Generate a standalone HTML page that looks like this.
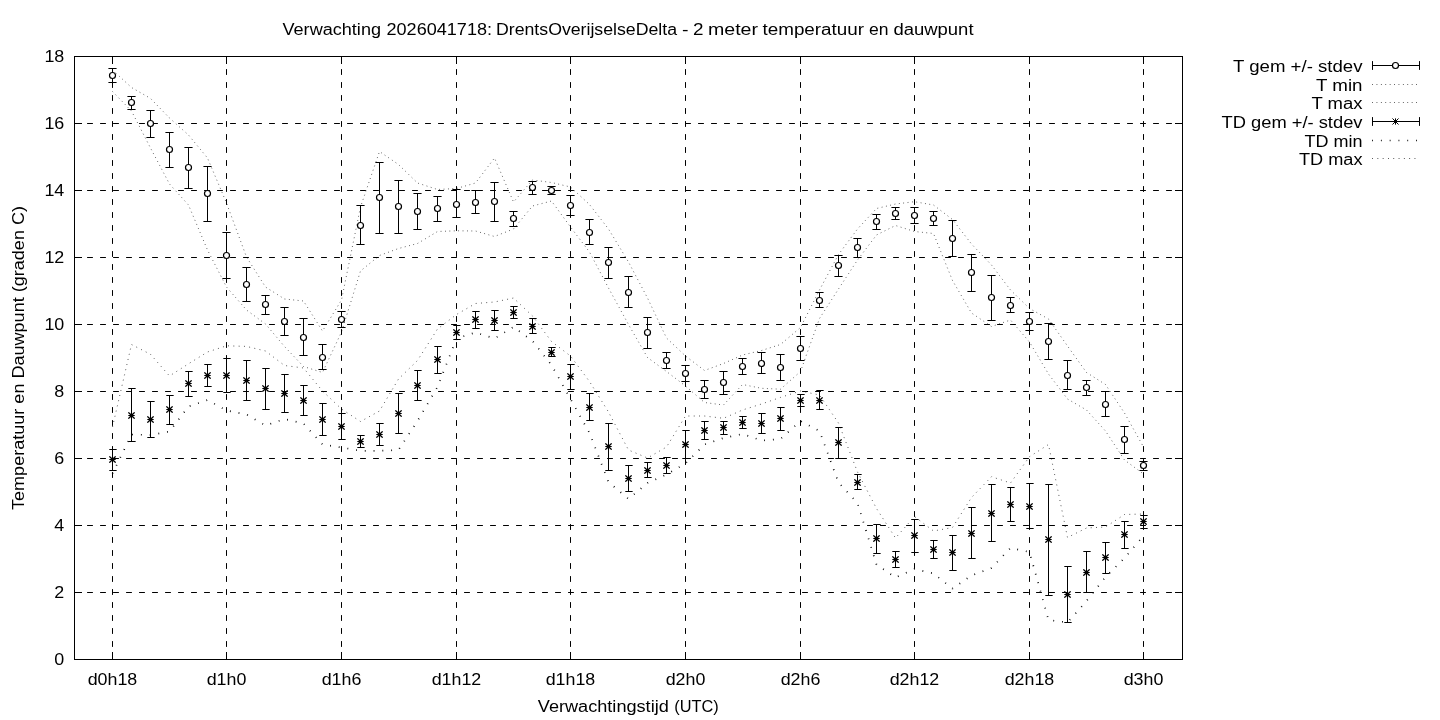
<!DOCTYPE html>
<html><head><meta charset="utf-8"><title>Verwachting</title>
<style>html,body{margin:0;padding:0;background:#fff}svg{display:block;will-change:transform}text{font-family:"Liberation Sans",sans-serif;font-size:16px;fill:#000}</style></head><body>
<svg width="1440" height="720" viewBox="0 0 1440 720">
<rect width="1440" height="720" fill="#fff"/>
<g stroke="#000" stroke-width="1" fill="none" stroke-linecap="round" stroke-dasharray="5 8">
<path d="M74.5 592.5H1182.5"/>
<path d="M74.5 525.5H1182.5"/>
<path d="M74.5 458.5H1182.5"/>
<path d="M74.5 391.5H1182.5"/>
<path d="M74.5 324.5H1182.5"/>
<path d="M74.5 257.5H1182.5"/>
<path d="M74.5 190.5H1182.5"/>
<path d="M74.5 123.5H1182.5"/>
<path d="M112.5 659.5V56.5"/>
<path d="M226.5 659.5V56.5"/>
<path d="M341.5 659.5V56.5"/>
<path d="M456.5 659.5V56.5"/>
<path d="M570.5 659.5V56.5"/>
<path d="M685.5 659.5V56.5"/>
<path d="M800.5 659.5V56.5"/>
<path d="M914.5 659.5V56.5"/>
<path d="M1029.5 659.5V56.5"/>
<path d="M1143.5 659.5V56.5"/>
</g>
<g stroke="#000" stroke-width="1" fill="none">
<path d="M74.5 659.5h7.5M1182.5 659.5h-7.5M74.5 592.5h7.5M1182.5 592.5h-7.5M74.5 525.5h7.5M1182.5 525.5h-7.5M74.5 458.5h7.5M1182.5 458.5h-7.5M74.5 391.5h7.5M1182.5 391.5h-7.5M74.5 324.5h7.5M1182.5 324.5h-7.5M74.5 257.5h7.5M1182.5 257.5h-7.5M74.5 190.5h7.5M1182.5 190.5h-7.5M74.5 123.5h7.5M1182.5 123.5h-7.5M74.5 56.5h7.5M1182.5 56.5h-7.5M112.5 659.5v-7.5M112.5 56.5v7.5M226.5 659.5v-7.5M226.5 56.5v7.5M341.5 659.5v-7.5M341.5 56.5v7.5M456.5 659.5v-7.5M456.5 56.5v7.5M570.5 659.5v-7.5M570.5 56.5v7.5M685.5 659.5v-7.5M685.5 56.5v7.5M800.5 659.5v-7.5M800.5 56.5v7.5M914.5 659.5v-7.5M914.5 56.5v7.5M1029.5 659.5v-7.5M1029.5 56.5v7.5M1143.5 659.5v-7.5M1143.5 56.5v7.5"/>
</g>
<g fill="none" stroke="#000" stroke-linejoin="round">
<path d="M112.5 91.5 L131.5 111 L150.5 148 L169.5 184 L188.5 205 L207.5 250 L226.5 287 L246.5 310 L265.5 324 L284.5 346.5 L303.5 366.5 L322.5 372.5 L341.5 332 L360.5 271 L379.5 255.5 L398.5 248.5 L417.5 243.5 L437.5 231.5 L456.5 230.8 L475.5 231 L494.5 236.5 L513.5 229 L532.5 206 L551.5 201 L570.5 227 L589.5 252 L608.5 288 L628.5 324.5 L647.5 357.5 L666.5 371.5 L685.5 386 L704.5 402.5 L723.5 405 L742.5 384.5 L761.5 388.3 L780.5 389.2 L800.5 371.5 L819.5 318.5 L838.5 289 L857.5 260 L876.5 235 L895.5 225.5 L914.5 231.5 L933.5 233.5 L952.5 280.5 L971.5 313 L991.5 326.5 L1010.5 320 L1029.5 342 L1048.5 374 L1067.5 399 L1086.5 410 L1105.5 431 L1124.5 460 L1143.5 474" stroke-width="0.7" stroke-dasharray="0.85 3.55" stroke-linecap="butt"/>
<path d="M112.5 70 L131.5 87.5 L150.5 98.4 L169.5 118 L188.5 135 L207.5 158 L226.5 203 L246.5 257 L265.5 287 L284.5 299 L303.5 301 L322.5 331 L341.5 300 L360.5 207 L379.5 151.5 L398.5 164.5 L417.5 183 L437.5 189.5 L456.5 188.5 L475.5 183 L494.5 158 L513.5 202 L532.5 180 L551.5 182.5 L570.5 187 L589.5 204.5 L608.5 229 L628.5 262 L647.5 298 L666.5 338 L685.5 356 L704.5 370.5 L723.5 363.5 L742.5 355 L761.5 350.5 L780.5 344.5 L800.5 327.5 L819.5 290 L838.5 254.5 L857.5 229 L876.5 208.5 L895.5 204 L914.5 201.7 L933.5 205 L952.5 219.5 L971.5 244 L991.5 265 L1010.5 290 L1029.5 308.5 L1048.5 319 L1067.5 346 L1086.5 372.5 L1105.5 384.5 L1124.5 413 L1143.5 447" stroke-width="0.7" stroke-dasharray="0.85 3.55" stroke-linecap="butt"/>
<path d="M112.5 473.5 L131.5 434.5 L150.5 435 L169.5 431.5 L188.5 406.5 L207.5 400 L226.5 410.5 L246.5 414.5 L265.5 425.5 L284.5 419 L303.5 423.5 L322.5 444.5 L341.5 447.5 L360.5 450.8 L379.5 450.8 L398.5 450 L417.5 421 L437.5 387 L456.5 338.5 L475.5 332.5 L494.5 338.5 L513.5 327 L532.5 341 L551.5 365 L570.5 399 L589.5 433 L608.5 482 L628.5 499 L647.5 483 L666.5 474.5 L685.5 463.5 L704.5 444.5 L723.5 438 L742.5 434 L761.5 440.5 L780.5 439 L800.5 421 L819.5 431 L838.5 482.5 L857.5 503 L876.5 564.5 L895.5 577.5 L914.5 569 L933.5 573.5 L952.5 588.5 L971.5 575.5 L991.5 568 L1010.5 548 L1029.5 552 L1048.5 620 L1067.5 622.5 L1086.5 601 L1105.5 577 L1124.5 558 L1143.5 536" stroke-width="1.7" stroke-dasharray="0.85 7.95" stroke-linecap="butt"/>
<path d="M112.5 427 L131.5 344.5 L150.5 354.3 L169.5 376 L188.5 363.8 L207.5 352 L226.5 345.8 L246.5 346.4 L265.5 351 L284.5 365.5 L303.5 368 L322.5 391 L341.5 409 L360.5 421.5 L379.5 411 L398.5 379 L417.5 360.5 L437.5 329 L456.5 314.5 L475.5 303.5 L494.5 302 L513.5 298 L532.5 316 L551.5 341.5 L570.5 356 L589.5 381.5 L608.5 412 L628.5 450 L647.5 458 L666.5 447 L685.5 416 L704.5 416 L723.5 418.3 L742.5 410 L761.5 404 L780.5 397.4 L800.5 391 L819.5 395 L838.5 423 L857.5 472 L876.5 508.5 L895.5 538 L914.5 516.5 L933.5 531 L952.5 527.5 L971.5 497.5 L991.5 476.7 L1010.5 483 L1029.5 456.7 L1048.5 444.5 L1067.5 537.5 L1086.5 528 L1105.5 527 L1124.5 514.5 L1143.5 514" stroke-width="0.72" stroke-dasharray="0.9 4.4" stroke-linecap="butt"/>
</g>
<g stroke="#000" stroke-width="1" fill="none" stroke-linecap="round">
<path d="M112.5 68.5V82.5M108.8 68.5h7.4M108.8 82.5h7.4M131.5 96.5V109.5M127.8 96.5h7.4M127.8 109.5h7.4M150.5 110.5V137.5M146.8 110.5h7.4M146.8 137.5h7.4M169.5 132.5V167.5M165.8 132.5h7.4M165.8 167.5h7.4M188.5 147.5V188.5M184.8 147.5h7.4M184.8 188.5h7.4M207.5 166.5V221.5M203.8 166.5h7.4M203.8 221.5h7.4M226.5 232.5V278.5M222.8 232.5h7.4M222.8 278.5h7.4M246.5 267.5V301.5M242.8 267.5h7.4M242.8 301.5h7.4M265.5 295.5V314.5M261.8 295.5h7.4M261.8 314.5h7.4M284.5 307.5V335.5M280.8 307.5h7.4M280.8 335.5h7.4M303.5 318.5V355.5M299.8 318.5h7.4M299.8 355.5h7.4M322.5 344.5V369.5M318.8 344.5h7.4M318.8 369.5h7.4M341.5 311.5V327.5M337.8 311.5h7.4M337.8 327.5h7.4M360.5 205.5V244.5M356.8 205.5h7.4M356.8 244.5h7.4M379.5 162.5V233.5M375.8 162.5h7.4M375.8 233.5h7.4M398.5 180.5V233.5M394.8 180.5h7.4M394.8 233.5h7.4M417.5 193.5V229.5M413.8 193.5h7.4M413.8 229.5h7.4M437.5 196.5V221.5M433.8 196.5h7.4M433.8 221.5h7.4M456.5 189.5V217.5M452.8 189.5h7.4M452.8 217.5h7.4M475.5 190.5V213.5M471.8 190.5h7.4M471.8 213.5h7.4M494.5 182.5V221.5M490.8 182.5h7.4M490.8 221.5h7.4M513.5 211.5V226.5M509.8 211.5h7.4M509.8 226.5h7.4M532.5 181.5V194.5M528.8 181.5h7.4M528.8 194.5h7.4M551.5 186.5V194.5M547.8 186.5h7.4M547.8 194.5h7.4M570.5 195.5V215.5M566.8 195.5h7.4M566.8 215.5h7.4M589.5 219.5V244.5M585.8 219.5h7.4M585.8 244.5h7.4M608.5 247.5V278.5M604.8 247.5h7.4M604.8 278.5h7.4M628.5 276.5V307.5M624.8 276.5h7.4M624.8 307.5h7.4M647.5 317.5V348.5M643.8 317.5h7.4M643.8 348.5h7.4M666.5 352.5V368.5M662.8 352.5h7.4M662.8 368.5h7.4M685.5 365.5V381.5M681.8 365.5h7.4M681.8 381.5h7.4M704.5 380.5V398.5M700.8 380.5h7.4M700.8 398.5h7.4M723.5 371.5V394.5M719.8 371.5h7.4M719.8 394.5h7.4M742.5 358.5V374.5M738.8 358.5h7.4M738.8 374.5h7.4M761.5 352.5V373.5M757.8 352.5h7.4M757.8 373.5h7.4M780.5 354.5V380.5M776.8 354.5h7.4M776.8 380.5h7.4M800.5 336.5V360.5M796.8 336.5h7.4M796.8 360.5h7.4M819.5 292.5V307.5M815.8 292.5h7.4M815.8 307.5h7.4M838.5 255.5V276.5M834.8 255.5h7.4M834.8 276.5h7.4M857.5 238.5V257.5M853.8 238.5h7.4M853.8 257.5h7.4M876.5 214.5V229.5M872.8 214.5h7.4M872.8 229.5h7.4M895.5 207.5V219.5M891.8 207.5h7.4M891.8 219.5h7.4M914.5 207.5V223.5M910.8 207.5h7.4M910.8 223.5h7.4M933.5 211.5V225.5M929.8 211.5h7.4M929.8 225.5h7.4M952.5 220.5V256.5M948.8 220.5h7.4M948.8 256.5h7.4M971.5 254.5V291.5M967.8 254.5h7.4M967.8 291.5h7.4M991.5 275.5V320.5M987.8 275.5h7.4M987.8 320.5h7.4M1010.5 297.5V312.5M1006.8 297.5h7.4M1006.8 312.5h7.4M1029.5 312.5V330.5M1025.8 312.5h7.4M1025.8 330.5h7.4M1048.5 323.5V359.5M1044.8 323.5h7.4M1044.8 359.5h7.4M1067.5 360.5V389.5M1063.8 360.5h7.4M1063.8 389.5h7.4M1086.5 380.5V395.5M1082.8 380.5h7.4M1082.8 395.5h7.4M1105.5 391.5V416.5M1101.8 391.5h7.4M1101.8 416.5h7.4M1124.5 426.5V453.5M1120.8 426.5h7.4M1120.8 453.5h7.4M1143.5 461.5V470.5M1139.8 461.5h7.4M1139.8 470.5h7.4"/>
<path d="M112.5 449.5V470.5M109.7 449.5h6.55M109.7 470.5h6.55M131.5 388.5V441.5M128.7 388.5h6.55M128.7 441.5h6.55M150.5 401.5V437.5M147.7 401.5h6.55M147.7 437.5h6.55M169.5 395.5V424.5M166.7 395.5h6.55M166.7 424.5h6.55M188.5 371.5V396.5M185.7 371.5h6.55M185.7 396.5h6.55M207.5 364.5V386.5M204.7 364.5h6.55M204.7 386.5h6.55M226.5 358.5V392.5M223.7 358.5h6.55M223.7 392.5h6.55M246.5 360.5V400.5M243.7 360.5h6.55M243.7 400.5h6.55M265.5 368.5V409.5M262.7 368.5h6.55M262.7 409.5h6.55M284.5 374.5V412.5M281.7 374.5h6.55M281.7 412.5h6.55M303.5 385.5V415.5M300.7 385.5h6.55M300.7 415.5h6.55M322.5 403.5V435.5M319.7 403.5h6.55M319.7 435.5h6.55M341.5 413.5V439.5M338.7 413.5h6.55M338.7 439.5h6.55M360.5 435.5V447.5M357.7 435.5h6.55M357.7 447.5h6.55M379.5 423.5V445.5M376.7 423.5h6.55M376.7 445.5h6.55M398.5 393.5V433.5M395.7 393.5h6.55M395.7 433.5h6.55M417.5 370.5V400.5M414.7 370.5h6.55M414.7 400.5h6.55M437.5 346.5V373.5M434.7 346.5h6.55M434.7 373.5h6.55M456.5 325.5V339.5M453.7 325.5h6.55M453.7 339.5h6.55M475.5 311.5V328.5M472.7 311.5h6.55M472.7 328.5h6.55M494.5 310.5V330.5M491.7 310.5h6.55M491.7 330.5h6.55M513.5 306.5V318.5M510.7 306.5h6.55M510.7 318.5h6.55M532.5 318.5V333.5M529.7 318.5h6.55M529.7 333.5h6.55M551.5 347.5V356.5M548.7 347.5h6.55M548.7 356.5h6.55M570.5 364.5V389.5M567.7 364.5h6.55M567.7 389.5h6.55M589.5 393.5V420.5M586.7 393.5h6.55M586.7 420.5h6.55M608.5 423.5V470.5M605.7 423.5h6.55M605.7 470.5h6.55M628.5 465.5V491.5M625.7 465.5h6.55M625.7 491.5h6.55M647.5 462.5V477.5M644.7 462.5h6.55M644.7 477.5h6.55M666.5 457.5V473.5M663.7 457.5h6.55M663.7 473.5h6.55M685.5 430.5V458.5M682.7 430.5h6.55M682.7 458.5h6.55M704.5 421.5V439.5M701.7 421.5h6.55M701.7 439.5h6.55M723.5 421.5V434.5M720.7 421.5h6.55M720.7 434.5h6.55M742.5 416.5V428.5M739.7 416.5h6.55M739.7 428.5h6.55M761.5 413.5V433.5M758.7 413.5h6.55M758.7 433.5h6.55M780.5 407.5V430.5M777.7 407.5h6.55M777.7 430.5h6.55M800.5 394.5V406.5M797.7 394.5h6.55M797.7 406.5h6.55M819.5 390.5V409.5M816.7 390.5h6.55M816.7 409.5h6.55M838.5 427.5V458.5M835.7 427.5h6.55M835.7 458.5h6.55M857.5 474.5V489.5M854.7 474.5h6.55M854.7 489.5h6.55M876.5 524.5V553.5M873.7 524.5h6.55M873.7 553.5h6.55M895.5 551.5V567.5M892.7 551.5h6.55M892.7 567.5h6.55M914.5 519.5V552.5M911.7 519.5h6.55M911.7 552.5h6.55M933.5 540.5V558.5M930.7 540.5h6.55M930.7 558.5h6.55M952.5 535.5V570.5M949.7 535.5h6.55M949.7 570.5h6.55M971.5 507.5V558.5M968.7 507.5h6.55M968.7 558.5h6.55M991.5 484.5V541.5M988.7 484.5h6.55M988.7 541.5h6.55M1010.5 487.5V521.5M1007.7 487.5h6.55M1007.7 521.5h6.55M1029.5 483.5V528.5M1026.7 483.5h6.55M1026.7 528.5h6.55M1048.5 484.5V595.5M1045.7 484.5h6.55M1045.7 595.5h6.55M1067.5 566.5V622.5M1064.7 566.5h6.55M1064.7 622.5h6.55M1086.5 551.5V592.5M1083.7 551.5h6.55M1083.7 592.5h6.55M1105.5 542.5V573.5M1102.7 542.5h6.55M1102.7 573.5h6.55M1124.5 521.5V548.5M1121.7 521.5h6.55M1121.7 548.5h6.55M1143.5 515.5V528.5M1140.7 515.5h6.55M1140.7 528.5h6.55"/>
<path d="M109.75 459.5h5.5M112.5 456.75v5.5M109.75 456.75l5.5 5.5M109.75 462.25l5.5 -5.5M128.75 415.5h5.5M131.5 412.75v5.5M128.75 412.75l5.5 5.5M128.75 418.25l5.5 -5.5M147.75 419.5h5.5M150.5 416.75v5.5M147.75 416.75l5.5 5.5M147.75 422.25l5.5 -5.5M166.75 409.5h5.5M169.5 406.75v5.5M166.75 406.75l5.5 5.5M166.75 412.25l5.5 -5.5M185.75 383.5h5.5M188.5 380.75v5.5M185.75 380.75l5.5 5.5M185.75 386.25l5.5 -5.5M204.75 375.5h5.5M207.5 372.75v5.5M204.75 372.75l5.5 5.5M204.75 378.25l5.5 -5.5M223.75 375.5h5.5M226.5 372.75v5.5M223.75 372.75l5.5 5.5M223.75 378.25l5.5 -5.5M243.75 380.5h5.5M246.5 377.75v5.5M243.75 377.75l5.5 5.5M243.75 383.25l5.5 -5.5M262.75 388.5h5.5M265.5 385.75v5.5M262.75 385.75l5.5 5.5M262.75 391.25l5.5 -5.5M281.75 393.5h5.5M284.5 390.75v5.5M281.75 390.75l5.5 5.5M281.75 396.25l5.5 -5.5M300.75 400.5h5.5M303.5 397.75v5.5M300.75 397.75l5.5 5.5M300.75 403.25l5.5 -5.5M319.75 419.5h5.5M322.5 416.75v5.5M319.75 416.75l5.5 5.5M319.75 422.25l5.5 -5.5M338.75 426.5h5.5M341.5 423.75v5.5M338.75 423.75l5.5 5.5M338.75 429.25l5.5 -5.5M357.75 441.5h5.5M360.5 438.75v5.5M357.75 438.75l5.5 5.5M357.75 444.25l5.5 -5.5M376.75 434.5h5.5M379.5 431.75v5.5M376.75 431.75l5.5 5.5M376.75 437.25l5.5 -5.5M395.75 413.5h5.5M398.5 410.75v5.5M395.75 410.75l5.5 5.5M395.75 416.25l5.5 -5.5M414.75 385.5h5.5M417.5 382.75v5.5M414.75 382.75l5.5 5.5M414.75 388.25l5.5 -5.5M434.75 359.5h5.5M437.5 356.75v5.5M434.75 356.75l5.5 5.5M434.75 362.25l5.5 -5.5M453.75 332.5h5.5M456.5 329.75v5.5M453.75 329.75l5.5 5.5M453.75 335.25l5.5 -5.5M472.75 319.5h5.5M475.5 316.75v5.5M472.75 316.75l5.5 5.5M472.75 322.25l5.5 -5.5M491.75 320.5h5.5M494.5 317.75v5.5M491.75 317.75l5.5 5.5M491.75 323.25l5.5 -5.5M510.75 312.5h5.5M513.5 309.75v5.5M510.75 309.75l5.5 5.5M510.75 315.25l5.5 -5.5M529.75 326.5h5.5M532.5 323.75v5.5M529.75 323.75l5.5 5.5M529.75 329.25l5.5 -5.5M548.75 352.5h5.5M551.5 349.75v5.5M548.75 349.75l5.5 5.5M548.75 355.25l5.5 -5.5M567.75 376.5h5.5M570.5 373.75v5.5M567.75 373.75l5.5 5.5M567.75 379.25l5.5 -5.5M586.75 407.5h5.5M589.5 404.75v5.5M586.75 404.75l5.5 5.5M586.75 410.25l5.5 -5.5M605.75 446.5h5.5M608.5 443.75v5.5M605.75 443.75l5.5 5.5M605.75 449.25l5.5 -5.5M625.75 478.5h5.5M628.5 475.75v5.5M625.75 475.75l5.5 5.5M625.75 481.25l5.5 -5.5M644.75 470.5h5.5M647.5 467.75v5.5M644.75 467.75l5.5 5.5M644.75 473.25l5.5 -5.5M663.75 465.5h5.5M666.5 462.75v5.5M663.75 462.75l5.5 5.5M663.75 468.25l5.5 -5.5M682.75 444.5h5.5M685.5 441.75v5.5M682.75 441.75l5.5 5.5M682.75 447.25l5.5 -5.5M701.75 430.5h5.5M704.5 427.75v5.5M701.75 427.75l5.5 5.5M701.75 433.25l5.5 -5.5M720.75 427.5h5.5M723.5 424.75v5.5M720.75 424.75l5.5 5.5M720.75 430.25l5.5 -5.5M739.75 422.5h5.5M742.5 419.75v5.5M739.75 419.75l5.5 5.5M739.75 425.25l5.5 -5.5M758.75 423.5h5.5M761.5 420.75v5.5M758.75 420.75l5.5 5.5M758.75 426.25l5.5 -5.5M777.75 418.5h5.5M780.5 415.75v5.5M777.75 415.75l5.5 5.5M777.75 421.25l5.5 -5.5M797.75 400.5h5.5M800.5 397.75v5.5M797.75 397.75l5.5 5.5M797.75 403.25l5.5 -5.5M816.75 400.5h5.5M819.5 397.75v5.5M816.75 397.75l5.5 5.5M816.75 403.25l5.5 -5.5M835.75 442.5h5.5M838.5 439.75v5.5M835.75 439.75l5.5 5.5M835.75 445.25l5.5 -5.5M854.75 482.5h5.5M857.5 479.75v5.5M854.75 479.75l5.5 5.5M854.75 485.25l5.5 -5.5M873.75 538.5h5.5M876.5 535.75v5.5M873.75 535.75l5.5 5.5M873.75 541.25l5.5 -5.5M892.75 559.5h5.5M895.5 556.75v5.5M892.75 556.75l5.5 5.5M892.75 562.25l5.5 -5.5M911.75 535.5h5.5M914.5 532.75v5.5M911.75 532.75l5.5 5.5M911.75 538.25l5.5 -5.5M930.75 549.5h5.5M933.5 546.75v5.5M930.75 546.75l5.5 5.5M930.75 552.25l5.5 -5.5M949.75 552.5h5.5M952.5 549.75v5.5M949.75 549.75l5.5 5.5M949.75 555.25l5.5 -5.5M968.75 533.5h5.5M971.5 530.75v5.5M968.75 530.75l5.5 5.5M968.75 536.25l5.5 -5.5M988.75 513.5h5.5M991.5 510.75v5.5M988.75 510.75l5.5 5.5M988.75 516.25l5.5 -5.5M1007.75 504.5h5.5M1010.5 501.75v5.5M1007.75 501.75l5.5 5.5M1007.75 507.25l5.5 -5.5M1026.75 506.5h5.5M1029.5 503.75v5.5M1026.75 503.75l5.5 5.5M1026.75 509.25l5.5 -5.5M1045.75 539.5h5.5M1048.5 536.75v5.5M1045.75 536.75l5.5 5.5M1045.75 542.25l5.5 -5.5M1064.75 594.5h5.5M1067.5 591.75v5.5M1064.75 591.75l5.5 5.5M1064.75 597.25l5.5 -5.5M1083.75 572.5h5.5M1086.5 569.75v5.5M1083.75 569.75l5.5 5.5M1083.75 575.25l5.5 -5.5M1102.75 557.5h5.5M1105.5 554.75v5.5M1102.75 554.75l5.5 5.5M1102.75 560.25l5.5 -5.5M1121.75 534.5h5.5M1124.5 531.75v5.5M1121.75 531.75l5.5 5.5M1121.75 537.25l5.5 -5.5M1140.75 521.5h5.5M1143.5 518.75v5.5M1140.75 518.75l5.5 5.5M1140.75 524.25l5.5 -5.5" stroke-width="1.2"/>
</g>
<g stroke="#000" stroke-width="1.2" fill="#fff">
<circle cx="112.5" cy="75.5" r="3"/>
<circle cx="131.5" cy="102.5" r="3"/>
<circle cx="150.5" cy="123.5" r="3"/>
<circle cx="169.5" cy="149.5" r="3"/>
<circle cx="188.5" cy="167.5" r="3"/>
<circle cx="207.5" cy="193.5" r="3"/>
<circle cx="226.5" cy="255.5" r="3"/>
<circle cx="246.5" cy="284.5" r="3"/>
<circle cx="265.5" cy="304.5" r="3"/>
<circle cx="284.5" cy="321.5" r="3"/>
<circle cx="303.5" cy="337.5" r="3"/>
<circle cx="322.5" cy="357.5" r="3"/>
<circle cx="341.5" cy="319.5" r="3"/>
<circle cx="360.5" cy="225.5" r="3"/>
<circle cx="379.5" cy="197.5" r="3"/>
<circle cx="398.5" cy="206.5" r="3"/>
<circle cx="417.5" cy="211.5" r="3"/>
<circle cx="437.5" cy="208.5" r="3"/>
<circle cx="456.5" cy="204.5" r="3"/>
<circle cx="475.5" cy="202.5" r="3"/>
<circle cx="494.5" cy="201.5" r="3"/>
<circle cx="513.5" cy="218.5" r="3"/>
<circle cx="532.5" cy="187.5" r="3"/>
<circle cx="551.5" cy="190.5" r="3"/>
<circle cx="570.5" cy="205.5" r="3"/>
<circle cx="589.5" cy="232.5" r="3"/>
<circle cx="608.5" cy="262.5" r="3"/>
<circle cx="628.5" cy="292.5" r="3"/>
<circle cx="647.5" cy="332.5" r="3"/>
<circle cx="666.5" cy="360.5" r="3"/>
<circle cx="685.5" cy="373.5" r="3"/>
<circle cx="704.5" cy="389.5" r="3"/>
<circle cx="723.5" cy="382.5" r="3"/>
<circle cx="742.5" cy="366.5" r="3"/>
<circle cx="761.5" cy="363.5" r="3"/>
<circle cx="780.5" cy="367.5" r="3"/>
<circle cx="800.5" cy="348.5" r="3"/>
<circle cx="819.5" cy="300.5" r="3"/>
<circle cx="838.5" cy="265.5" r="3"/>
<circle cx="857.5" cy="247.5" r="3"/>
<circle cx="876.5" cy="221.5" r="3"/>
<circle cx="895.5" cy="213.5" r="3"/>
<circle cx="914.5" cy="215.5" r="3"/>
<circle cx="933.5" cy="218.5" r="3"/>
<circle cx="952.5" cy="238.5" r="3"/>
<circle cx="971.5" cy="272.5" r="3"/>
<circle cx="991.5" cy="297.5" r="3"/>
<circle cx="1010.5" cy="305.5" r="3"/>
<circle cx="1029.5" cy="321.5" r="3"/>
<circle cx="1048.5" cy="341.5" r="3"/>
<circle cx="1067.5" cy="375.5" r="3"/>
<circle cx="1086.5" cy="387.5" r="3"/>
<circle cx="1105.5" cy="404.5" r="3"/>
<circle cx="1124.5" cy="439.5" r="3"/>
<circle cx="1143.5" cy="465.5" r="3"/>
</g>
<rect x="74.5" y="56.5" width="1108.0" height="603.0" fill="none" stroke="#000" stroke-width="1"/>
<text x="1362.5" y="71.5" text-anchor="end" textLength="129.5" lengthAdjust="spacingAndGlyphs">T gem +/- stdev</text>
<text x="1362.5" y="90.5" text-anchor="end" textLength="46.5" lengthAdjust="spacingAndGlyphs">T min</text>
<text x="1362.5" y="108.5" text-anchor="end" textLength="51" lengthAdjust="spacingAndGlyphs">T max</text>
<text x="1362.5" y="127.5" text-anchor="end" textLength="141" lengthAdjust="spacingAndGlyphs">TD gem +/- stdev</text>
<text x="1362.5" y="146.5" text-anchor="end" textLength="58" lengthAdjust="spacingAndGlyphs">TD min</text>
<text x="1362.5" y="164.5" text-anchor="end" textLength="63.5" lengthAdjust="spacingAndGlyphs">TD max</text>
<g stroke="#000" fill="none" stroke-linecap="round">
<path stroke-width="1" d="M1372.5 65.5H1419.5M1372.5 61.5v8M1419.5 61.5v8"/>
<path stroke-width="1" d="M1372.5 121.5H1419.5M1372.5 117.5v8M1419.5 117.5v8"/>
<path stroke-width="0.7" stroke-dasharray="0.85 3.55" stroke-linecap="butt" d="M1372.12 84.5H1419.5"/>
<path stroke-width="0.7" stroke-dasharray="0.85 3.55" stroke-linecap="butt" d="M1372.12 102.5H1419.5"/>
<path stroke-width="1.7" stroke-dasharray="0.85 7.95" stroke-linecap="butt" d="M1372.1 140.5H1419.5"/>
<path stroke-width="0.72" stroke-dasharray="0.9 4.4" stroke-linecap="butt" d="M1372.1 158.5H1419.5"/>
<path stroke-width="1" d="M1392.75 121.5h5.5M1395.5 118.75v5.5M1392.75 118.75l5.5 5.5M1392.75 124.25l5.5 -5.5"/>
</g>
<circle cx="1395.5" cy="65.5" r="3" stroke="#000" stroke-width="1.2" fill="#fff"/>
<text x="282.5" y="35" textLength="98.5" lengthAdjust="spacingAndGlyphs">Verwachting</text>
<text x="386.5" y="35" textLength="105.5" lengthAdjust="spacingAndGlyphs">2026041718:</text>
<text x="496" y="35" textLength="181" lengthAdjust="spacingAndGlyphs">DrentsOverijselseDelta</text>
<text x="682" y="35" textLength="6.5" lengthAdjust="spacingAndGlyphs">-</text>
<text x="693" y="35" textLength="10.5" lengthAdjust="spacingAndGlyphs">2</text>
<text x="708" y="35" textLength="50" lengthAdjust="spacingAndGlyphs">meter</text>
<text x="762.5" y="35" textLength="101.5" lengthAdjust="spacingAndGlyphs">temperatuur</text>
<text x="869" y="35" textLength="19.5" lengthAdjust="spacingAndGlyphs">en</text>
<text x="893.5" y="35" textLength="80.0" lengthAdjust="spacingAndGlyphs">dauwpunt</text>
<text x="64.3" y="665.3" text-anchor="end" textLength="9.95" lengthAdjust="spacingAndGlyphs">0</text>
<text x="64.3" y="598.3" text-anchor="end" textLength="9.95" lengthAdjust="spacingAndGlyphs">2</text>
<text x="64.3" y="531.3" text-anchor="end" textLength="9.95" lengthAdjust="spacingAndGlyphs">4</text>
<text x="64.3" y="464.3" text-anchor="end" textLength="9.95" lengthAdjust="spacingAndGlyphs">6</text>
<text x="64.3" y="397.3" text-anchor="end" textLength="9.95" lengthAdjust="spacingAndGlyphs">8</text>
<text x="64.3" y="330.3" text-anchor="end" textLength="19.9" lengthAdjust="spacingAndGlyphs">10</text>
<text x="64.3" y="263.3" text-anchor="end" textLength="19.9" lengthAdjust="spacingAndGlyphs">12</text>
<text x="64.3" y="196.3" text-anchor="end" textLength="19.9" lengthAdjust="spacingAndGlyphs">14</text>
<text x="64.3" y="129.3" text-anchor="end" textLength="19.9" lengthAdjust="spacingAndGlyphs">16</text>
<text x="64.3" y="62.3" text-anchor="end" textLength="19.9" lengthAdjust="spacingAndGlyphs">18</text>
<text x="112.5" y="684.5" text-anchor="middle" textLength="49.6" lengthAdjust="spacingAndGlyphs">d0h18</text>
<text x="226.5" y="684.5" text-anchor="middle" textLength="39.68" lengthAdjust="spacingAndGlyphs">d1h0</text>
<text x="341.5" y="684.5" text-anchor="middle" textLength="39.68" lengthAdjust="spacingAndGlyphs">d1h6</text>
<text x="456.5" y="684.5" text-anchor="middle" textLength="49.6" lengthAdjust="spacingAndGlyphs">d1h12</text>
<text x="570.5" y="684.5" text-anchor="middle" textLength="49.6" lengthAdjust="spacingAndGlyphs">d1h18</text>
<text x="685.5" y="684.5" text-anchor="middle" textLength="39.68" lengthAdjust="spacingAndGlyphs">d2h0</text>
<text x="800.5" y="684.5" text-anchor="middle" textLength="39.68" lengthAdjust="spacingAndGlyphs">d2h6</text>
<text x="914.5" y="684.5" text-anchor="middle" textLength="49.6" lengthAdjust="spacingAndGlyphs">d2h12</text>
<text x="1029.5" y="684.5" text-anchor="middle" textLength="49.6" lengthAdjust="spacingAndGlyphs">d2h18</text>
<text x="1143.5" y="684.5" text-anchor="middle" textLength="39.68" lengthAdjust="spacingAndGlyphs">d3h0</text>
<text x="537.8" y="712" textLength="131" lengthAdjust="spacingAndGlyphs">Verwachtingstijd</text>
<text x="674.2" y="712" textLength="44.5" lengthAdjust="spacingAndGlyphs">(UTC)</text>
<text transform="translate(23.8 358) rotate(-90)" text-anchor="middle" textLength="304" lengthAdjust="spacingAndGlyphs">Temperatuur en Dauwpunt (graden C)</text>
</svg></body></html>
